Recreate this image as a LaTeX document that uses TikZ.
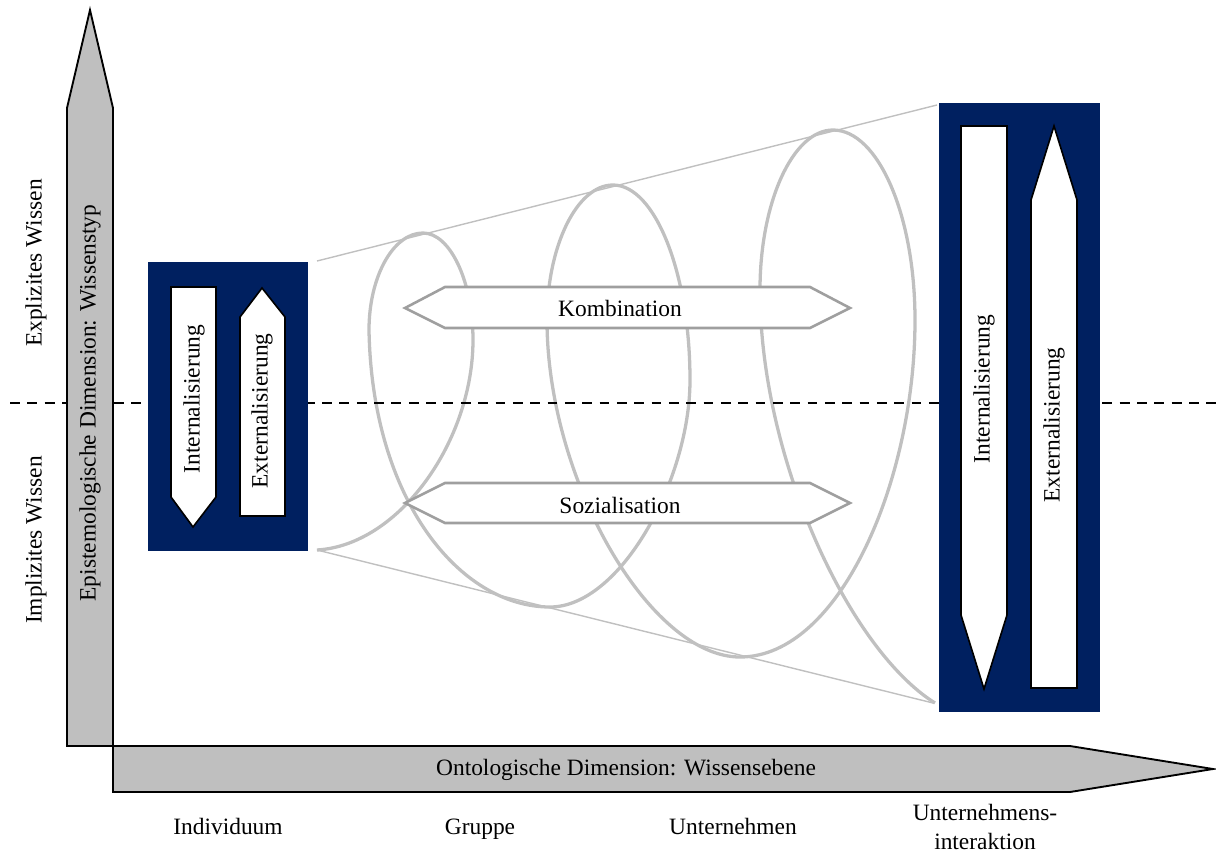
\documentclass[tikz,border=0pt]{standalone}
\usepackage{fontspec}
\setmainfont{Liberation Serif}
\definecolor{navybox}{RGB}{0,32,96}
\definecolor{axisgray}{RGB}{191,191,191}
\definecolor{spiralgray}{RGB}{192,192,192}
\begin{document}
\begin{tikzpicture}[x=0.015cm, y=-0.015cm,
    every node/.style={font=\normalsize, inner sep=0pt},
    axis/.style={draw=black, fill=axisgray, line width=0.8pt},
    navy/.style={fill=navybox},
    flow/.style={draw=black, fill=white, line width=0.7pt},
    mode/.style={draw=gray!75, fill=white, line width=1.1pt},
    spiral/.style={draw=spiralgray, line width=1.4pt},
    cone/.style={draw=spiralgray, line width=0.6pt},
    vtext/.style={rotate=90},
    level/.style={text height=1.6ex, text depth=0.45ex},
  ]
  \useasboundingbox (0,0) rectangle (1216,855);

  % Knowledge spiral and cone
  \draw[spiral] (317,550)
    .. controls (400,545) and (473,440) .. (473,340)
    .. controls (473,281) and (450,233) .. (423,233)
    .. controls (393,233) and (369,277) .. (369,330)
    .. controls (372,500) and (460,607) .. (550,607)
    .. controls (620,607) and (690,480) .. (690,380)
    .. controls (690,273) and (655,185) .. (613,185)
    .. controls (577,185) and (547,246) .. (547,320)
    .. controls (547,480) and (650,657) .. (740,657)
    .. controls (840,657) and (915,480) .. (915,320)
    .. controls (915,215) and (878,130) .. (833,130)
    .. controls (793,130) and (760,202) .. (760,290)
    .. controls (760,460) and (850,650) .. (935,703);
  \draw[cone] (317,261) -- (937,105);
  \draw[cone] (317,550) -- (933,703);

  % Explicit / implicit divider
  \draw[line width=1pt, dash pattern=on 4.2pt off 3.2pt] (10,403) -- (1216,403);

  % Combination and socialisation
  \draw[mode] (405,308) -- (445,287) -- (810,287) -- (850,308) -- (810,328) -- (445,328) -- cycle;
  \node (komb) at (620,308) {Kombination};
  \draw[mode] (405,503) -- (445,483) -- (810,483) -- (850,503) -- (810,523) -- (445,523) -- cycle;
  \node (sozial) at (620,505) {Sozialisation};

  % Individual level
  \fill[navy] (148,262) rectangle (308,551);
  \draw[flow] (171,287) -- (216,287) -- (216,497) -- (193,527) -- (171,497) -- cycle;
  \draw[flow] (240,516) -- (240,317) -- (262,288) -- (285,317) -- (285,516) -- cycle;
  \node[vtext] (intS) at (194,399) {Internalisierung};
  \node[vtext] (extS) at (262,411) {Externalisierung};

  % Inter-organisational level
  \fill[navy] (939,103) rectangle (1100,712);
  \draw[flow] (961,126) -- (1007,126) -- (1007,615) -- (984,689) -- (961,615) -- cycle;
  \draw[flow] (1031,688) -- (1031,200) -- (1054,126) -- (1077,200) -- (1077,688) -- cycle;
  \node[vtext] (intL) at (984,389) {Internalisierung};
  \node[vtext] (extL) at (1054,425) {Externalisierung};

  % Axes
  \draw[axis] (67,746) -- (67,108) -- (90,10) -- (113,108) -- (113,746) -- cycle;
  \node[vtext] (epist) at (90,403) {Epistemologische Dimension: Wissenstyp};
  \draw[axis] (113,746) -- (1070,746) -- (1213,769) -- (1070,792) -- (113,792) -- cycle;
  \node (onto) at (626,770) {Ontologische Dimension: Wissensebene};

  \node[vtext] (expl) at (36,263) {Explizites Wissen};
  \node[vtext] (impl) at (36,540) {Implizites Wissen};

  \node[level] (indiv)  at (228,828) {Individuum};
  \node[level] (gruppe) at (480,828) {Gruppe};
  \node[level] (untern) at (733,828) {Unternehmen};
  \node[align=center] (inter) at (985,827) {Unternehmens-\\interaktion};
\end{tikzpicture}
\end{document}
